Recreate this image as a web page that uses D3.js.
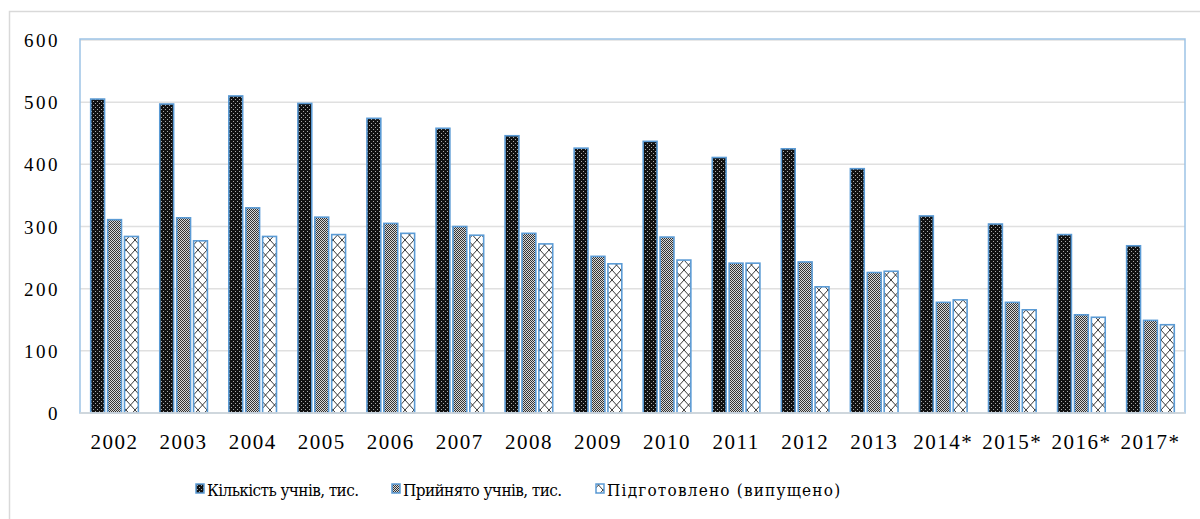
<!DOCTYPE html>
<html>
    <head>
        <script src="https://d3js.org/d3.v7.min.js"></script>
        <style>
            body {
                margin: 0;
                background: #ffffff;
            }
            svg {
                display: block;
            }
            text {
                font-family: "Liberation Serif", "Times New Roman", serif;
                fill: #000000;
            }
            .legend text {
                font-family: "DejaVu Serif Condensed", "DejaVu Serif", serif;
                font-stretch: condensed;
            }
        </style>
    </head>
    <body>
        <div class="v1">
            <script>
                // Data
                let years = ["2002", "2003", "2004", "2005", "2006", "2007", "2008", "2009",
                             "2010", "2011", "2012", "2013", "2014*", "2015*", "2016*", "2017*"];
                let students = [505, 497, 510, 498, 474, 458, 446, 426, 437, 411, 425, 393, 317, 304, 287, 269];
                let admitted = [311, 314, 330, 315, 305, 300, 289, 252, 283, 241, 243, 226, 178, 178, 158, 149];
                let graduated = [284, 277, 284, 287, 289, 286, 272, 240, 246, 241, 203, 228, 182, 166, 154, 142];
                let seriesNames = ["Кількість учнів, тис.", "Прийнято учнів, тис.", "Підготовлено (випущено)"];
                let yTicks = [0, 100, 200, 300, 400, 500, 600];

                let series = [students, admitted, graduated];
                let fills = ["url(#dark)", "url(#grey)", "url(#cross)"];
                let serif = "'Liberation Serif', 'Times New Roman', serif";

                let svg = d3.select("div.v1").append("svg")
                    .attr("width", 1200)
                    .attr("height", 519);

                // Fill patterns for the bars
                let defs = svg.append("defs");

                let dark = defs.append("pattern")
                    .attr("id", "dark")
                    .attr("patternUnits", "userSpaceOnUse")
                    .attr("width", 4)
                    .attr("height", 4);
                dark.append("rect").attr("width", 4).attr("height", 4).attr("fill", "#111111");
                dark.append("rect").attr("x", 1).attr("y", 1).attr("width", 1).attr("height", 1).attr("fill", "#aaaaaa");
                dark.append("rect").attr("x", 3).attr("y", 3).attr("width", 1).attr("height", 1).attr("fill", "#aaaaaa");

                let grey = defs.append("pattern")
                    .attr("id", "grey")
                    .attr("patternUnits", "userSpaceOnUse")
                    .attr("width", 2)
                    .attr("height", 2);
                grey.append("rect").attr("width", 2).attr("height", 2).attr("fill", "#d8d8d8");
                grey.append("rect").attr("width", 1).attr("height", 1).attr("fill", "#333333");
                grey.append("rect").attr("x", 1).attr("y", 1).attr("width", 1).attr("height", 1).attr("fill", "#333333");

                let cross = defs.append("pattern")
                    .attr("id", "cross")
                    .attr("patternUnits", "userSpaceOnUse")
                    .attr("width", 9)
                    .attr("height", 10);
                cross.append("rect").attr("width", 9).attr("height", 10).attr("fill", "#ffffff");
                cross.append("path")
                    .attr("d", "M0,0L9,10M9,0L0,10")
                    .attr("stroke", "#222222")
                    .attr("stroke-width", 0.9);

                // Outer chart border
                svg.append("rect")
                    .attr("x", 9.5)
                    .attr("y", 11.5)
                    .attr("width", 1210)
                    .attr("height", 520)
                    .attr("fill", "none")
                    .attr("stroke", "#d9d9d9")
                    .attr("stroke-width", 1.5);

                // Scales
                let x = d3.scaleBand()
                    .domain(years)
                    .range([80, 1185])
                    .paddingInner(0.31)
                    .paddingOuter(0.155);

                let xInner = d3.scaleBand()
                    .domain(d3.range(series.length))
                    .range([0, x.bandwidth()])
                    .paddingInner(0.18);

                let y = d3.scaleLinear()
                    .domain([0, 600])
                    .range([413, 40]);

                // Gridlines
                svg.append("g")
                    .selectAll("line")
                    .data(yTicks.slice(1))
                    .join("line")
                    .attr("x1", 80)
                    .attr("x2", 1185)
                    .attr("y1", d => y(d))
                    .attr("y2", d => y(d))
                    .attr("stroke", "#e0e0e0")
                    .attr("stroke-width", 1.5);

                // Y axis labels
                let yAxis = svg.append("g")
                    .attr("transform", "translate(60, 0)")
                    .call(d3.axisLeft(y).tickValues(yTicks).tickSize(0).tickPadding(0));
                yAxis.select(".domain").remove();
                yAxis.selectAll("text")
                    .style("font-family", serif)
                    .style("font-size", "19px")
                    .style("letter-spacing", "2.5px")
                    .attr("dy", "0.35em");

                // Bars
                series.forEach((values, s) => {
                    svg.append("g")
                        .selectAll("rect")
                        .data(values)
                        .join("rect")
                        .attr("x", (d, i) => x(years[i]) + xInner(s))
                        .attr("y", d => y(d))
                        .attr("width", xInner.bandwidth())
                        .attr("height", d => y(0) - y(d))
                        .attr("fill", fills[s])
                        .attr("stroke", "#5b9bd5")
                        .attr("stroke-width", 1.6);
                });

                // Plot area border and baseline
                svg.append("rect")
                    .attr("x", 80)
                    .attr("y", 39)
                    .attr("width", 1105)
                    .attr("height", y(0) - 39)
                    .attr("fill", "none")
                    .attr("stroke", "#9dc3e6")
                    .attr("stroke-width", 1.5);

                svg.append("line")
                    .attr("x1", 80)
                    .attr("x2", 1185)
                    .attr("y1", y(0))
                    .attr("y2", y(0))
                    .attr("stroke", "#d9d9d9")
                    .attr("stroke-width", 1.5);

                // X axis labels
                let xAxis = svg.append("g")
                    .attr("transform", "translate(0, 449)")
                    .call(d3.axisBottom(x).tickSize(0).tickPadding(0));
                xAxis.select(".domain").remove();
                xAxis.selectAll("text")
                    .style("font-family", serif)
                    .style("font-size", "21px")
                    .style("letter-spacing", "1.5px")
                    .attr("dy", "0");

                // Legend
                let legendX = [196, 392, 596];
                let legendSpacing = ["-0.6px", "-0.6px", "1.2px"];
                let legend = svg.append("g").attr("class", "legend");
                seriesNames.forEach((name, s) => {
                    legend.append("rect")
                        .attr("x", legendX[s])
                        .attr("y", 484)
                        .attr("width", 8)
                        .attr("height", 9)
                        .attr("fill", fills[s])
                        .attr("stroke", "#5b9bd5")
                        .attr("stroke-width", 1.5);
                    legend.append("text")
                        .attr("x", legendX[s] + 11)
                        .attr("y", 496)
                        .style("font-size", "17px")
                        .style("letter-spacing", legendSpacing[s])
                        .text(name);
                });
            </script>
        </div>
    </body>
</html>
